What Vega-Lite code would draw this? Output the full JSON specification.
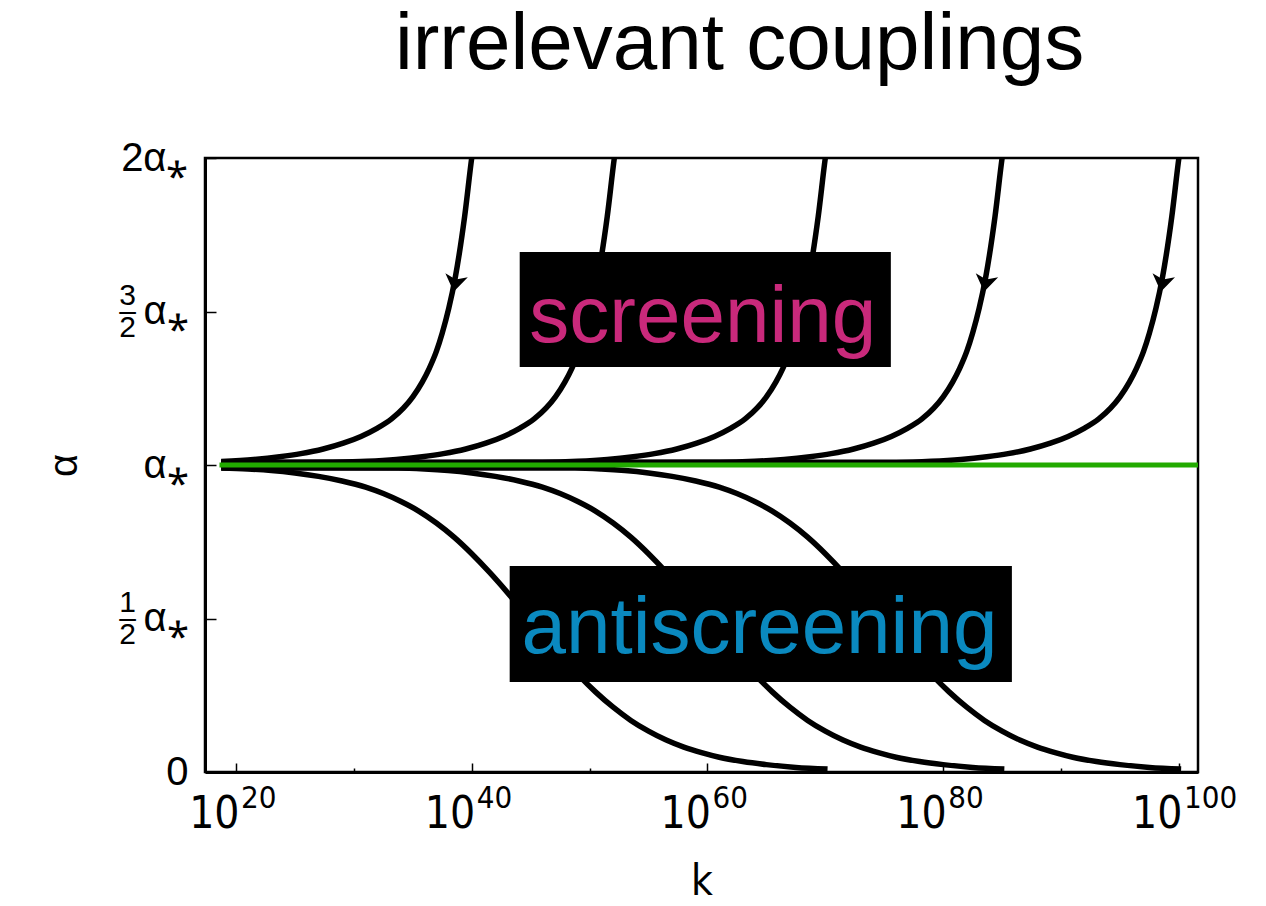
{
  "$schema": "https://vega.github.io/schema/vega-lite/v6.json",
  "width": 993,
  "height": 614,
  "autosize": {"type": "none"},
  "padding": {"left": 205, "top": 158, "right": 68, "bottom": 134},
  "background": "white",
  "title": {"text": "irrelevant couplings", "fontSize": 80, "fontWeight": "normal", "font": "Liberation Sans", "color": "black", "anchor": "middle", "dx": 38, "offset": -11, "baseline": "alphabetic"},
  "config": {
    "view": {"stroke": "black", "strokeWidth": 2.5},
    "font": "Liberation Sans",
    "axis": {"labelColor": "black", "titleColor": "black", "tickColor": "black", "domainColor": "black", "grid": false}
  },
  "datasets": {
    "curves": [
      {"c": "s1", "e": 18.75, "a": 1.011}, {"c": "s1", "e": 21.5, "a": 1.018}, {"c": "s1", "e": 23.7, "a": 1.027}, {"c": "s1", "e": 25.5, "a": 1.037}, {"c": "s1", "e": 27.4, "a": 1.052}, {"c": "s1", "e": 29.1, "a": 1.071}, {"c": "s1", "e": 30.6, "a": 1.093}, {"c": "s1", "e": 32.0, "a": 1.12}, {"c": "s1", "e": 33.2, "a": 1.15}, {"c": "s1", "e": 34.2, "a": 1.185}, {"c": "s1", "e": 35.0, "a": 1.222}, {"c": "s1", "e": 35.8, "a": 1.27}, {"c": "s1", "e": 36.4, "a": 1.315}, {"c": "s1", "e": 37.0, "a": 1.37}, {"c": "s1", "e": 37.5, "a": 1.43}, {"c": "s1", "e": 38.05, "a": 1.51}, {"c": "s1", "e": 38.6, "a": 1.61}, {"c": "s1", "e": 39.4, "a": 1.81}, {"c": "s1", "e": 40.0, "a": 2.0}, {"c": "s1", "e": 40.3, "a": 2.08},
      {"c": "s2", "e": 18.75, "a": 1.008}, {"c": "s2", "e": 25.0, "a": 1.008}, {"c": "s2", "e": 28.1, "a": 1.009}, {"c": "s2", "e": 31.1, "a": 1.012}, {"c": "s2", "e": 33.6, "a": 1.018}, {"c": "s2", "e": 35.8, "a": 1.027}, {"c": "s2", "e": 37.6, "a": 1.037}, {"c": "s2", "e": 39.5, "a": 1.052}, {"c": "s2", "e": 41.2, "a": 1.071}, {"c": "s2", "e": 42.7, "a": 1.093}, {"c": "s2", "e": 44.1, "a": 1.12}, {"c": "s2", "e": 45.3, "a": 1.15}, {"c": "s2", "e": 46.3, "a": 1.185}, {"c": "s2", "e": 47.1, "a": 1.222}, {"c": "s2", "e": 47.9, "a": 1.27}, {"c": "s2", "e": 48.5, "a": 1.315}, {"c": "s2", "e": 49.1, "a": 1.37}, {"c": "s2", "e": 49.6, "a": 1.43}, {"c": "s2", "e": 50.15, "a": 1.51}, {"c": "s2", "e": 50.7, "a": 1.61}, {"c": "s2", "e": 51.5, "a": 1.81}, {"c": "s2", "e": 52.1, "a": 2.0}, {"c": "s2", "e": 52.4, "a": 2.08},
      {"c": "s3", "e": 18.75, "a": 1.008}, {"c": "s3", "e": 30.0, "a": 1.008}, {"c": "s3", "e": 46.0, "a": 1.009}, {"c": "s3", "e": 49.0, "a": 1.012}, {"c": "s3", "e": 51.5, "a": 1.018}, {"c": "s3", "e": 53.7, "a": 1.027}, {"c": "s3", "e": 55.5, "a": 1.037}, {"c": "s3", "e": 57.4, "a": 1.052}, {"c": "s3", "e": 59.1, "a": 1.071}, {"c": "s3", "e": 60.6, "a": 1.093}, {"c": "s3", "e": 62.0, "a": 1.12}, {"c": "s3", "e": 63.2, "a": 1.15}, {"c": "s3", "e": 64.2, "a": 1.185}, {"c": "s3", "e": 65.0, "a": 1.222}, {"c": "s3", "e": 65.8, "a": 1.27}, {"c": "s3", "e": 66.4, "a": 1.315}, {"c": "s3", "e": 67.0, "a": 1.37}, {"c": "s3", "e": 67.5, "a": 1.43}, {"c": "s3", "e": 68.05, "a": 1.51}, {"c": "s3", "e": 68.6, "a": 1.61}, {"c": "s3", "e": 69.4, "a": 1.81}, {"c": "s3", "e": 70.0, "a": 2.0}, {"c": "s3", "e": 70.3, "a": 2.08},
      {"c": "s4", "e": 18.75, "a": 1.008}, {"c": "s4", "e": 40.0, "a": 1.008}, {"c": "s4", "e": 61.0, "a": 1.009}, {"c": "s4", "e": 64.0, "a": 1.012}, {"c": "s4", "e": 66.5, "a": 1.018}, {"c": "s4", "e": 68.7, "a": 1.027}, {"c": "s4", "e": 70.5, "a": 1.037}, {"c": "s4", "e": 72.4, "a": 1.052}, {"c": "s4", "e": 74.1, "a": 1.071}, {"c": "s4", "e": 75.6, "a": 1.093}, {"c": "s4", "e": 77.0, "a": 1.12}, {"c": "s4", "e": 78.2, "a": 1.15}, {"c": "s4", "e": 79.2, "a": 1.185}, {"c": "s4", "e": 80.0, "a": 1.222}, {"c": "s4", "e": 80.8, "a": 1.27}, {"c": "s4", "e": 81.4, "a": 1.315}, {"c": "s4", "e": 82.0, "a": 1.37}, {"c": "s4", "e": 82.5, "a": 1.43}, {"c": "s4", "e": 83.05, "a": 1.51}, {"c": "s4", "e": 83.6, "a": 1.61}, {"c": "s4", "e": 84.4, "a": 1.81}, {"c": "s4", "e": 85.0, "a": 2.0}, {"c": "s4", "e": 85.3, "a": 2.08},
      {"c": "s5", "e": 18.75, "a": 1.008}, {"c": "s5", "e": 50.0, "a": 1.008}, {"c": "s5", "e": 76.0, "a": 1.009}, {"c": "s5", "e": 79.0, "a": 1.012}, {"c": "s5", "e": 81.5, "a": 1.018}, {"c": "s5", "e": 83.7, "a": 1.027}, {"c": "s5", "e": 85.5, "a": 1.037}, {"c": "s5", "e": 87.4, "a": 1.052}, {"c": "s5", "e": 89.1, "a": 1.071}, {"c": "s5", "e": 90.6, "a": 1.093}, {"c": "s5", "e": 92.0, "a": 1.12}, {"c": "s5", "e": 93.2, "a": 1.15}, {"c": "s5", "e": 94.2, "a": 1.185}, {"c": "s5", "e": 95.0, "a": 1.222}, {"c": "s5", "e": 95.8, "a": 1.27}, {"c": "s5", "e": 96.4, "a": 1.315}, {"c": "s5", "e": 97.0, "a": 1.37}, {"c": "s5", "e": 97.5, "a": 1.43}, {"c": "s5", "e": 98.05, "a": 1.51}, {"c": "s5", "e": 98.6, "a": 1.61}, {"c": "s5", "e": 99.4, "a": 1.81}, {"c": "s5", "e": 100.0, "a": 2.0}, {"c": "s5", "e": 100.3, "a": 2.08},
      {"c": "a1", "e": 18.75, "a": 0.99}, {"c": "a1", "e": 21, "a": 0.987}, {"c": "a1", "e": 23, "a": 0.982}, {"c": "a1", "e": 25, "a": 0.974}, {"c": "a1", "e": 27, "a": 0.963}, {"c": "a1", "e": 29, "a": 0.948}, {"c": "a1", "e": 31, "a": 0.928}, {"c": "a1", "e": 32.5, "a": 0.907}, {"c": "a1", "e": 34, "a": 0.881}, {"c": "a1", "e": 35.5, "a": 0.85}, {"c": "a1", "e": 37, "a": 0.811}, {"c": "a1", "e": 38.5, "a": 0.765}, {"c": "a1", "e": 40, "a": 0.711}, {"c": "a1", "e": 41.5, "a": 0.651}, {"c": "a1", "e": 43, "a": 0.586}, {"c": "a1", "e": 44.5, "a": 0.517}, {"c": "a1", "e": 46, "a": 0.448}, {"c": "a1", "e": 47.5, "a": 0.381}, {"c": "a1", "e": 49, "a": 0.318}, {"c": "a1", "e": 50.5, "a": 0.261}, {"c": "a1", "e": 52, "a": 0.211}, {"c": "a1", "e": 53.5, "a": 0.168}, {"c": "a1", "e": 55, "a": 0.133}, {"c": "a1", "e": 56.5, "a": 0.104}, {"c": "a1", "e": 58, "a": 0.081}, {"c": "a1", "e": 59.5, "a": 0.063}, {"c": "a1", "e": 61, "a": 0.048}, {"c": "a1", "e": 63, "a": 0.034}, {"c": "a1", "e": 65, "a": 0.024}, {"c": "a1", "e": 67.5, "a": 0.015}, {"c": "a1", "e": 70.19, "a": 0.01},
      {"c": "a2", "e": 18.75, "a": 0.991}, {"c": "a2", "e": 33.75, "a": 0.99}, {"c": "a2", "e": 36, "a": 0.987}, {"c": "a2", "e": 38, "a": 0.982}, {"c": "a2", "e": 40, "a": 0.974}, {"c": "a2", "e": 42, "a": 0.963}, {"c": "a2", "e": 44, "a": 0.948}, {"c": "a2", "e": 46, "a": 0.928}, {"c": "a2", "e": 47.5, "a": 0.907}, {"c": "a2", "e": 49, "a": 0.881}, {"c": "a2", "e": 50.5, "a": 0.85}, {"c": "a2", "e": 52, "a": 0.811}, {"c": "a2", "e": 53.5, "a": 0.765}, {"c": "a2", "e": 55, "a": 0.711}, {"c": "a2", "e": 56.5, "a": 0.651}, {"c": "a2", "e": 58, "a": 0.586}, {"c": "a2", "e": 59.5, "a": 0.517}, {"c": "a2", "e": 61, "a": 0.448}, {"c": "a2", "e": 62.5, "a": 0.381}, {"c": "a2", "e": 64, "a": 0.318}, {"c": "a2", "e": 65.5, "a": 0.261}, {"c": "a2", "e": 67, "a": 0.211}, {"c": "a2", "e": 68.5, "a": 0.168}, {"c": "a2", "e": 70, "a": 0.133}, {"c": "a2", "e": 71.5, "a": 0.104}, {"c": "a2", "e": 73, "a": 0.081}, {"c": "a2", "e": 74.5, "a": 0.063}, {"c": "a2", "e": 76, "a": 0.048}, {"c": "a2", "e": 78, "a": 0.034}, {"c": "a2", "e": 80, "a": 0.024}, {"c": "a2", "e": 82.5, "a": 0.015}, {"c": "a2", "e": 85.19, "a": 0.01},
      {"c": "a3", "e": 18.75, "a": 0.991}, {"c": "a3", "e": 48.75, "a": 0.99}, {"c": "a3", "e": 51, "a": 0.987}, {"c": "a3", "e": 53, "a": 0.982}, {"c": "a3", "e": 55, "a": 0.974}, {"c": "a3", "e": 57, "a": 0.963}, {"c": "a3", "e": 59, "a": 0.948}, {"c": "a3", "e": 61, "a": 0.928}, {"c": "a3", "e": 62.5, "a": 0.907}, {"c": "a3", "e": 64, "a": 0.881}, {"c": "a3", "e": 65.5, "a": 0.85}, {"c": "a3", "e": 67, "a": 0.811}, {"c": "a3", "e": 68.5, "a": 0.765}, {"c": "a3", "e": 70, "a": 0.711}, {"c": "a3", "e": 71.5, "a": 0.651}, {"c": "a3", "e": 73, "a": 0.586}, {"c": "a3", "e": 74.5, "a": 0.517}, {"c": "a3", "e": 76, "a": 0.448}, {"c": "a3", "e": 77.5, "a": 0.381}, {"c": "a3", "e": 79, "a": 0.318}, {"c": "a3", "e": 80.5, "a": 0.261}, {"c": "a3", "e": 82, "a": 0.211}, {"c": "a3", "e": 83.5, "a": 0.168}, {"c": "a3", "e": 85, "a": 0.133}, {"c": "a3", "e": 86.5, "a": 0.104}, {"c": "a3", "e": 88, "a": 0.081}, {"c": "a3", "e": 89.5, "a": 0.063}, {"c": "a3", "e": 91, "a": 0.048}, {"c": "a3", "e": 93, "a": 0.034}, {"c": "a3", "e": 95, "a": 0.024}, {"c": "a3", "e": 97.5, "a": 0.015}, {"c": "a3", "e": 100.19, "a": 0.01}
    ],
    "fixed": [{"e": 18.6, "a": 1}, {"e": 101.62, "a": 1}],
    "arrows": [{"c": "s1", "e": 38.6, "a": 1.593}, {"c": "s2", "e": 50.7, "a": 1.593}, {"c": "s3", "e": 68.6, "a": 1.593}, {"c": "s4", "e": 83.6, "a": 1.593}, {"c": "s5", "e": 98.6, "a": 1.593}],
    "regions": [
      {"label": "screening", "x1": 44.07, "x2": 75.56, "y1": 1.694, "y2": 1.319, "xc": 59.6, "yb": 1.401},
      {"label": "antiscreening", "x1": 43.22, "x2": 85.83, "y1": 0.671, "y2": 0.293, "xc": 64.41, "yb": 0.388}
    ],
    "exponents": [{"e": 20, "s": "20"}, {"e": 40, "s": "40"}, {"e": 60, "s": "60"}, {"e": 80, "s": "80"}, {"e": 100, "s": "100"}]
  },
  "layer": [
    {
      "data": {"name": "curves"},
      "mark": {"type": "line", "color": "black", "strokeWidth": 5.5, "interpolate": "monotone", "clip": true, "strokeCap": "butt"},
      "encoding": {
        "x": {"field": "e", "type": "quantitative", "scale": {"domain": [17.37, 101.62], "nice": false, "zero": false},
          "axis": {"orient": "bottom", "values": [20, 30, 40, 50, 60, 70, 80, 90, 100], "labelExpr": "datum.value % 20 === 0 ? '10' : ''",
            "tickSize": {"condition": {"test": "datum.value % 20 === 0", "value": -9}, "value": -4}, "tickWidth": 1.5,
            "domainWidth": 3, "labelFont": "DejaVu Sans Condensed, Liberation Sans", "labelFontSize": 44, "labelAlign": "right", "labelOffset": 3, "labelPadding": 29, "labelBaseline": "top",
            "labelFlush": false, "labelOverlap": false, "title": "k", "titleFont": "DejaVu Sans Condensed, Liberation Sans", "titleFontSize": 42, "titleFontWeight": "normal", "titlePadding": 20}},
        "y": {"field": "a", "type": "quantitative", "scale": {"domain": [0, 2], "nice": false, "zero": false},
          "axis": {"orient": "left", "values": [0, 0.5, 1, 1.5, 2], "labelExpr": "datum.value === 0 ? '0' : (datum.value === 2 ? '2α⁎' : 'α⁎')",
            "tickSize": -11, "tickWidth": 1.5, "domainWidth": 3, "labelPadding": 28, "labelFontSize": 40, "labelAlign": "right", "labelBaseline": "middle",
            "labelFlush": false, "labelOverlap": false, "title": "α", "titleFontSize": 40, "titleFontWeight": "normal", "titlePadding": 36}},
        "detail": {"field": "c", "type": "nominal"}
      }
    },
    {
      "data": {"name": "fixed"},
      "mark": {"type": "line", "color": "#22aa00", "strokeWidth": 5, "strokeCap": "butt"},
      "encoding": {
        "x": {"field": "e", "type": "quantitative", "scale": {"domain": [17.37, 101.62], "nice": false, "zero": false}, "axis": null},
        "y": {"field": "a", "type": "quantitative", "scale": {"domain": [0, 2], "nice": false, "zero": false}, "axis": null}
      }
    },
    {
      "data": {"name": "arrows"},
      "mark": {"type": "point", "shape": "M0,0.75L-0.95,-0.65L0,-0.3L0.95,-0.65Z", "size": 576, "filled": true, "color": "black", "opacity": 1, "angle": 10},
      "encoding": {
        "x": {"field": "e", "type": "quantitative", "scale": {"domain": [17.37, 101.62], "nice": false, "zero": false}, "axis": null},
        "y": {"field": "a", "type": "quantitative", "scale": {"domain": [0, 2], "nice": false, "zero": false}, "axis": null}
      }
    },
    {
      "data": {"name": "regions"},
      "mark": {"type": "rect", "color": "black"},
      "encoding": {
        "x": {"field": "x1", "type": "quantitative", "scale": {"domain": [17.37, 101.62], "nice": false, "zero": false}, "axis": null},
        "x2": {"field": "x2"},
        "y": {"field": "y1", "type": "quantitative", "scale": {"domain": [0, 2], "nice": false, "zero": false},
          "axis": {"orient": "left", "values": [0.5, 1.5], "labelExpr": "datum.value === 0.5 ? ['1','–','2'] : ['3','–','2']",
            "domain": false, "ticks": false, "tickSize": 0, "labelPadding": 78, "labelOffset": -16, "labelAlign": "center", "labelBaseline": "middle",
            "labelFontSize": 30, "labelLineHeight": 16, "labelFlush": false, "labelOverlap": false, "title": null}},
        "y2": {"field": "y2"}
      }
    },
    {
      "data": {"name": "regions"},
      "mark": {"type": "text", "fontSize": 80, "font": "Liberation Sans", "align": "center", "baseline": "alphabetic"},
      "encoding": {
        "x": {"field": "xc", "type": "quantitative", "scale": {"domain": [17.37, 101.62], "nice": false, "zero": false}, "axis": null},
        "y": {"field": "yb", "type": "quantitative", "scale": {"domain": [0, 2], "nice": false, "zero": false}, "axis": null},
        "text": {"field": "label"},
        "color": {"field": "label", "type": "nominal", "scale": {"domain": ["screening", "antiscreening"], "range": ["#c9297b", "#0a89bf"]}, "legend": null}
      }
    },
    {
      "data": {"name": "exponents"},
      "mark": {"type": "text", "fontSize": 31, "font": "DejaVu Sans Condensed, Liberation Sans", "align": "left", "baseline": "top", "dx": 5, "dy": 12, "color": "black"},
      "encoding": {
        "x": {"field": "e", "type": "quantitative", "scale": {"domain": [17.37, 101.62], "nice": false, "zero": false}, "axis": null},
        "y": {"datum": 0, "type": "quantitative", "scale": {"domain": [0, 2], "nice": false, "zero": false}, "axis": null},
        "text": {"field": "s"}
      }
    }
  ],
  "resolve": {"axis": {"x": "independent", "y": "independent"}}
}
